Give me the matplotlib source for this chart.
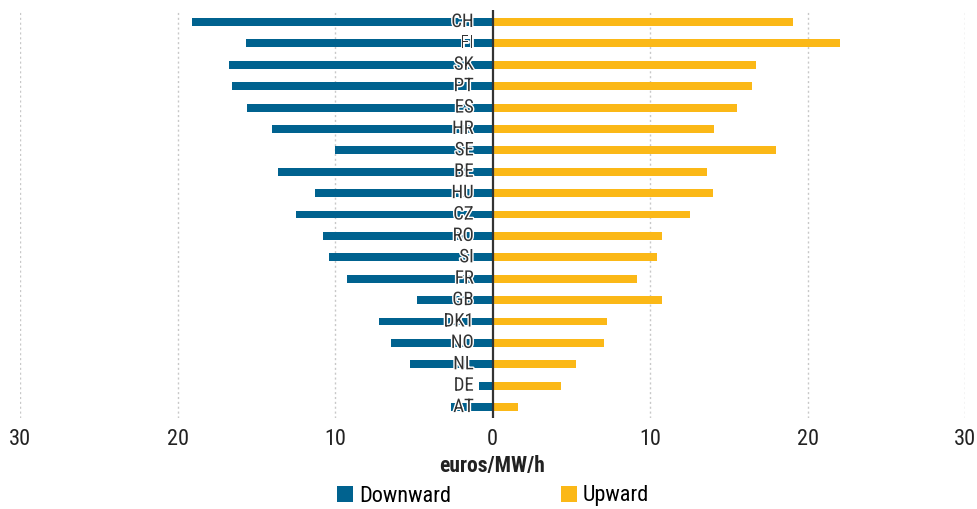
import matplotlib
matplotlib.use("Agg")
import matplotlib.pyplot as plt
import matplotlib.patheffects as pe
from matplotlib.ticker import FuncFormatter
from matplotlib.patches import Patch

plt.rcParams['font.family'] = ['Roboto Condensed', 'DejaVu Sans']

countries = ["CH", "FI", "SK", "PT", "ES", "HR", "SE", "BE", "HU", "CZ",
             "RO", "SI", "FR", "GB", "DK1", "NO", "NL", "DE", "AT"]
downward = [19.1, 15.65, 16.7, 16.55, 15.6, 14.0, 10.0, 13.6, 11.3, 12.5,
            10.75, 10.4, 9.25, 4.8, 7.2, 6.45, 5.25, 0.85, 2.65]
upward = [19.1, 22.05, 16.7, 16.45, 15.55, 14.05, 18.0, 13.6, 14.0, 12.55,
          10.75, 10.45, 9.2, 10.75, 7.25, 7.05, 5.3, 4.35, 1.65]
xticks = [-30, -20, -10, 0, 10, 20, 30]

BLUE = "#00628f"
YELLOW = "#fbb817"

fig = plt.figure(figsize=(9.77, 5.09), dpi=100)
ax = fig.add_axes([20/977, 1-418/509, 945/977, 408/509])

y = list(range(len(countries)))
ax.barh(y, [-v for v in downward], height=0.37, color=BLUE, zorder=2)
ax.barh(y, upward, height=0.37, color=YELLOW, zorder=2)

ax.set_xlim(-30, 30)
ax.set_ylim(len(countries) - 0.49, -0.56)

for xv in xticks:
    if xv != 0:
        ax.axvline(xv, color="#c8c8c8", linestyle=(0, (1.5, 2)), linewidth=1, zorder=1)
ax.axvline(0, color="#333333", linewidth=1.6, zorder=4)

for i, c in enumerate(countries):
    ax.text(-1.2, i, c, ha="right", va="center", fontsize=13.5, color="#333333",
            zorder=5,
            path_effects=[pe.withStroke(linewidth=2, foreground="white")])

ax.set_xticks(xticks)
ax.xaxis.set_major_formatter(FuncFormatter(lambda v, p: f"{abs(int(round(v)))}"))
ax.tick_params(axis="x", length=0, labelsize=16, labelcolor="#222222", pad=8)
ax.set_yticks([])
for s in ax.spines.values():
    s.set_visible(False)

ax.set_xlabel("euros/MW/h", fontsize=15.5, fontweight="bold", color="#222222")
ax.xaxis.label.set_va("center")
ax.xaxis.set_label_coords(0.5, -(466 - 418) / 408)

handles = [Patch(facecolor=BLUE, label="Downward"), Patch(facecolor=YELLOW, label="Upward")]
fig.legend(handles=handles, loc="center", bbox_to_anchor=(493/977, 1-496/509), ncol=2,
           frameon=False, fontsize=16, handlelength=0.72, handleheight=0.72,
           handletextpad=0.25, columnspacing=4.95, borderpad=0, borderaxespad=0)

fig.savefig("out.png", dpi=100)
